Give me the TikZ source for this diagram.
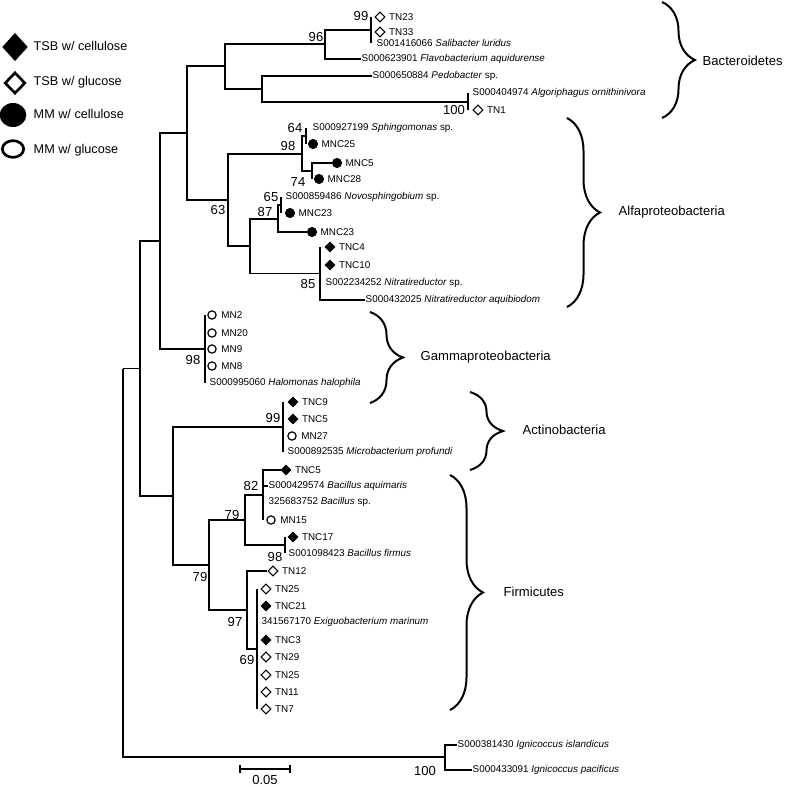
\documentclass[tikz,border=0pt]{standalone}
\usepackage{fontspec}
\setmainfont{Liberation Sans}
\usetikzlibrary{positioning,shapes.geometric,decorations.pathreplacing}

\begin{document}
\begin{tikzpicture}[x=0.75pt,y=-0.75pt,line width=1.1pt,
    leaf/.style={anchor=west,inner sep=0pt,font=\fontsize{7.4}{8}\selectfont},
    boot/.style={inner sep=0pt,font=\fontsize{9.8}{11}\selectfont},
    clade/.style={anchor=west,inner sep=0pt,font=\fontsize{9.8}{11}\selectfont},
    key/.style={anchor=west,inner sep=0pt,font=\fontsize{9.5}{10}\selectfont},
    tsbc/.style={diamond,draw,fill=black,inner sep=0pt,minimum size=7.5pt,line width=0.5pt},
    tsbg/.style={diamond,draw,fill=white,inner sep=0pt,minimum size=7.5pt,line width=0.8pt},
    mmc/.style={circle,draw,fill=black,inner sep=0pt,minimum size=7pt,line width=0.5pt},
    mmg/.style={circle,draw,fill=white,inner sep=0pt,minimum size=6.2pt,line width=0.9pt},
    clbrace/.style={decorate,decoration={brace,amplitude=24.75pt},line width=1.5pt}]

    \useasboundingbox (0,0) rectangle (787,786);

    % legend
    \node[diamond,fill=black,inner sep=0pt,minimum width=19.5pt,minimum height=21.5pt] (key1m) at (15,47) {};
    \node[key] (key1) at (33,46) {TSB w/ cellulose};
    \node[diamond,draw,line width=2pt,inner sep=0pt,minimum width=15.5pt,minimum height=16pt] (key2m) at (15,83) {};
    \node[key] (key2) at (33,82) {TSB w/ glucose};
    \node[ellipse,fill=black,inner sep=0pt,minimum width=20pt,minimum height=18pt] (key3m) at (13,115) {};
    \node[key] (key3) at (33,114) {MM w/ cellulose};
    \node[ellipse,draw,line width=2pt,inner sep=0pt,minimum width=16pt,minimum height=12.5pt] (key4m) at (13,149) {};
    \node[key] (key4) at (33,150) {MM w/ glucose};

    % internal nodes
    \coordinate (root) at (123,368.5);
    \coordinate (ingrp) at (140,368.5);
    \coordinate (upper) at (160,241);
    \coordinate (bactalfa) at (187,133);
    \coordinate (bact) at (225,66);
    \coordinate (bsal) at (325,44);
    \coordinate (sal) at (371,30);
    \coordinate (bpedo) at (262,89);
    \coordinate (algo) at (468,102);
    \coordinate (alfa) at (228,200);
    \coordinate (sphi) at (302,154);
    \coordinate (sphi1) at (306,136);
    \coordinate (sphi2) at (312,171);
    \coordinate (nitro) at (250,246);
    \coordinate (novo) at (278,219);
    \coordinate (novo1) at (281,205);
    \coordinate (nitr) at (320,273.5);
    \coordinate (gamma) at (205,349);
    \coordinate (lower) at (173,496);
    \coordinate (actino) at (283,427);
    \coordinate (firm) at (209,565);
    \coordinate (bac) at (245,520);
    \coordinate (bac1) at (263,495);
    \coordinate (bac2) at (285,545);
    \coordinate (exi) at (247,610);
    \coordinate (exi1) at (257,649);
    \coordinate (igni) at (445,757);

    % Bacteroidetes
    \node[tsbg] (tn23m) at (380,17) {};
    \node[leaf,right=2.2pt of tn23m] (tn23) {TN23};
    \node[tsbg] (tn33m) at (380,32) {};
    \node[leaf,right=2.2pt of tn33m] (tn33) {TN33};
    \node[leaf] (salib) at (376,43) {S001416066 \textit{Salibacter luridus}};
    \node[leaf] (flav) at (361,59) {S000623901 \textit{Flavobacterium aquidurense}};
    \node[leaf] (pedo) at (372,76) {S000650884 \textit{Pedobacter} sp.};
    \node[leaf] (algor) at (472,93) {S000404974 \textit{Algoriphagus ornithinivora}};
    \node[tsbg] (tn1m) at (478,110) {};
    \node[leaf,right=2.2pt of tn1m] (tn1) {TN1};

    % Alfaproteobacteria
    \node[leaf] (sphingo) at (312,128) {S000927199 \textit{Sphingomonas} sp.};
    \node[mmc] (mnc25m) at (313,144) {};
    \node[leaf,right=2.2pt of mnc25m] (mnc25) {MNC25};
    \node[mmc] (mnc5m) at (337,163) {};
    \node[leaf,right=2.2pt of mnc5m] (mnc5) {MNC5};
    \node[mmc] (mnc28m) at (319,179) {};
    \node[leaf,right=2.2pt of mnc28m] (mnc28) {MNC28};
    \node[leaf] (novosp) at (285,197) {S000859486 \textit{Novosphingobium} sp.};
    \node[mmc] (mnc23m) at (290,213) {};
    \node[leaf,right=2.2pt of mnc23m] (mnc23) {MNC23};
    \node[mmc] (mnc23bm) at (312,232) {};
    \node[leaf,right=2.2pt of mnc23bm] (mnc23b) {MNC23};
    \node[tsbc] (tnc4m) at (330,247) {};
    \node[leaf,right=2.2pt of tnc4m] (tnc4) {TNC4};
    \node[tsbc] (tnc10m) at (330,265) {};
    \node[leaf,right=2.2pt of tnc10m] (tnc10) {TNC10};
    \node[leaf] (nitrsp) at (325,283) {S002234252 \textit{Nitratireductor} sp.};
    \node[leaf] (aquib) at (365,300) {S000432025 \textit{Nitratireductor aquibiodom}};

    % Gammaproteobacteria
    \node[mmg] (mn2m) at (212,315) {};
    \node[leaf,right=3pt of mn2m] (mn2) {MN2};
    \node[mmg] (mn20m) at (212,333) {};
    \node[leaf,right=3pt of mn20m] (mn20) {MN20};
    \node[mmg] (mn9m) at (212,349) {};
    \node[leaf,right=3pt of mn9m] (mn9) {MN9};
    \node[mmg] (mn8m) at (212,366) {};
    \node[leaf,right=3pt of mn8m] (mn8) {MN8};
    \node[leaf] (halo) at (209,383) {S000995060 \textit{Halomonas halophila}};

    % Actinobacteria
    \node[tsbc] (tnc9m) at (293,402) {};
    \node[leaf,right=2.2pt of tnc9m] (tnc9) {TNC9};
    \node[tsbc] (tnc5m) at (293,419) {};
    \node[leaf,right=2.2pt of tnc5m] (tnc5) {TNC5};
    \node[mmg] (mn27m) at (292,436) {};
    \node[leaf,right=3pt of mn27m] (mn27) {MN27};
    \node[leaf] (micro) at (287,452) {S000892535 \textit{Microbacterium profundi}};

    % Firmicutes
    \node[tsbc] (tnc5bm) at (286,470) {};
    \node[leaf,right=2.2pt of tnc5bm] (tnc5b) {TNC5};
    \node[leaf] (aquim) at (268,486) {S000429574 \textit{Bacillus aquimaris}};
    \node[leaf] (bacsp) at (268,502) {325683752 \textit{Bacillus} sp.};
    \node[mmg] (mn15m) at (271,520) {};
    \node[leaf,right=3pt of mn15m] (mn15) {MN15};
    \node[tsbc] (tnc17m) at (293,537) {};
    \node[leaf,right=2.2pt of tnc17m] (tnc17) {TNC17};
    \node[leaf] (firmus) at (288,553) {S001098423 \textit{Bacillus firmus}};
    \node[tsbg] (tn12m) at (273,571) {};
    \node[leaf,right=2.2pt of tn12m] (tn12) {TN12};
    \node[tsbg] (tn25m) at (266,589) {};
    \node[leaf,right=2.2pt of tn25m] (tn25) {TN25};
    \node[tsbc] (tnc21m) at (266,606) {};
    \node[leaf,right=2.2pt of tnc21m] (tnc21) {TNC21};
    \node[leaf] (exig) at (261,622) {341567170 \textit{Exiguobacterium marinum}};
    \node[tsbc] (tnc3m) at (266,640) {};
    \node[leaf,right=2.2pt of tnc3m] (tnc3) {TNC3};
    \node[tsbg] (tn29m) at (266,657) {};
    \node[leaf,right=2.2pt of tn29m] (tn29) {TN29};
    \node[tsbg] (tn25bm) at (266,675) {};
    \node[leaf,right=2.2pt of tn25bm] (tn25b) {TN25};
    \node[tsbg] (tn11m) at (266,692) {};
    \node[leaf,right=2.2pt of tn11m] (tn11) {TN11};
    \node[tsbg] (tn7m) at (266,709) {};
    \node[leaf,right=2.2pt of tn7m] (tn7) {TN7};

    % outgroup
    \node[leaf] (island) at (457,745) {S000381430 \textit{Ignicoccus islandicus}};
    \node[leaf] (pacif) at (472,770) {S000433091 \textit{Ignicoccus pacificus}};

    % branches
    \draw (root) -- (ingrp);
    \draw (root) |- (igni);
    \draw (igni) |- (island);
    \draw (igni) |- (pacif);
    \draw (ingrp) |- (upper);
    \draw (ingrp) |- (lower);
    \draw (upper) |- (bactalfa);
    \draw (upper) |- (gamma);
    \draw (bactalfa) |- (bact);
    \draw (bactalfa) |- (alfa);
    \draw (bact) |- (bsal);
    \draw (bact) |- (bpedo);
    \draw (bsal) |- (sal);
    \draw (bsal) |- (flav);
    \draw (sal |- tn23m) -- (sal |- salib);
    \draw (bpedo) |- (pedo);
    \draw (bpedo) |- (algo);
    \draw (algo |- algor) -- (algo |- tn1m);
    \draw (alfa) |- (sphi);
    \draw (alfa) |- (nitro);
    \draw (sphi) |- (sphi1);
    \draw (sphi) |- (sphi2);
    \draw (sphi1 |- sphingo) -- (sphi1 |- mnc25m);
    \draw (sphi2) |- (mnc5m);
    \draw (sphi2) -- (sphi2 |- mnc28m);
    \draw (nitro) |- (novo);
    \draw (nitro) |- (nitr);
    \draw (novo) |- (novo1);
    \draw (novo) |- (mnc23bm);
    \draw (novo1 |- novosp) -- (novo1 |- mnc23m);
    \draw (nitr |- tnc4m) -- (nitr |- nitrsp);
    \draw (nitr) |- (aquib);
    \draw (gamma |- mn2m) -- (gamma |- halo);
    \draw (lower) |- (actino);
    \draw (lower) |- (firm);
    \draw (actino |- tnc9m) -- (actino |- micro);
    \draw (firm) |- (bac);
    \draw (firm) |- (exi);
    \draw (bac) |- (bac1);
    \draw (bac) |- (bac2);
    \draw (bac1) |- (tnc5bm);
    \draw (bac1) |- (aquim);
    \draw (bac1) -- (bac1 |- mn15m);
    \draw (bac2 |- tnc17m) -- (bac2 |- firmus);
    \draw (exi) |- (tn12m);
    \draw (exi) |- (exi1);
    \draw (exi1 |- tn25m) -- (exi1 |- tn7m);

    % bootstrap values
    \node[boot] (bs1) at (361,16) {99};
    \node[boot] (bs2) at (316,37) {96};
    \node[boot] (bs3) at (454,110) {100};
    \node[boot] (bs4) at (295,128) {64};
    \node[boot] (bs5) at (288,146) {98};
    \node[boot] (bs6) at (298,182) {74};
    \node[boot] (bs7) at (218,210) {63};
    \node[boot] (bs8) at (271,197) {65};
    \node[boot] (bs9) at (265,212) {87};
    \node[boot] (bs10) at (308,284) {85};
    \node[boot] (bs11) at (193,360) {98};
    \node[boot] (bs12) at (273,418) {99};
    \node[boot] (bs13) at (251,486) {82};
    \node[boot] (bs14) at (232,515) {79};
    \node[boot] (bs15) at (275,557) {98};
    \node[boot] (bs16) at (200,577) {79};
    \node[boot] (bs17) at (235,622) {97};
    \node[boot] (bs18) at (247,660) {69};
    \node[boot] (bs19) at (425,771) {100};

    % clades
    \draw[clbrace] (662,2) -- (662,118);
    \node[clade] (cbact) at (702,61) {Bacteroidetes};
    \draw[clbrace] (567,118) -- (567,307);
    \node[clade] (calfa) at (618,212) {Alfaproteobacteria};
    \draw[clbrace] (370,312) -- (370,403);
    \node[clade] (cgamma) at (420,357) {Gammaproteobacteria};
    \draw[clbrace] (470,392) -- (470,470);
    \node[clade] (cactino) at (522,430) {Actinobacteria};
    \draw[clbrace] (450,475) -- (450,710);
    \node[clade] (cfirm) at (503,592) {Firmicutes};

    % scale bar
    \coordinate (sb1) at (240,769);
    \coordinate (sb2) at (290,769);
    \draw[line width=0.8pt] (sb1) -- (sb2);
    \draw[line width=0.8pt] ([yshift=3pt]sb1) -- ([yshift=-3pt]sb1);
    \draw[line width=0.8pt] ([yshift=3pt]sb2) -- ([yshift=-3pt]sb2);
    \node[boot] (sblbl) at (265,780) {0.05};

\end{tikzpicture}
\end{document}
